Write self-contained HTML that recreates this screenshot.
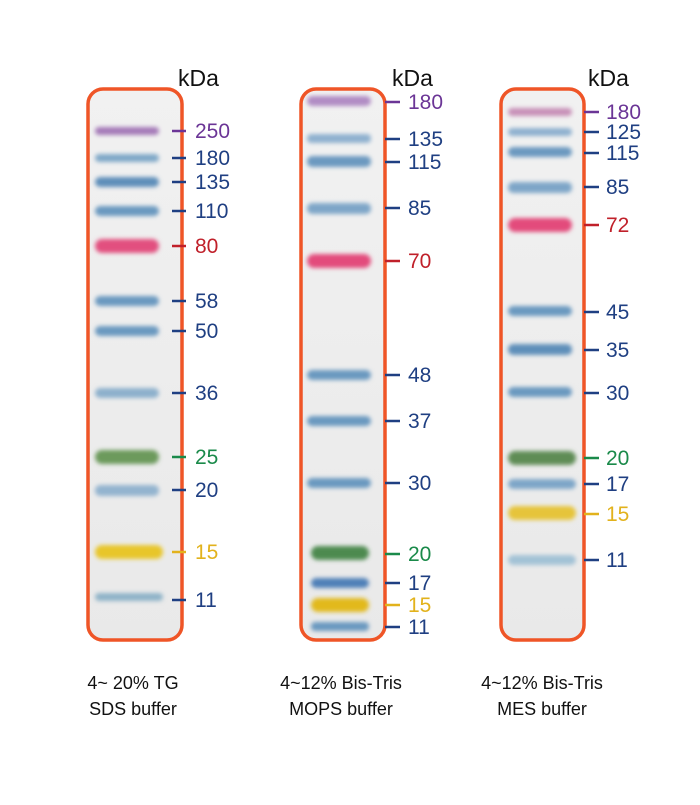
<!DOCTYPE html>
<html><head><style>body{margin:0;background:#fff}</style></head><body>
<svg width="700" height="800" xmlns="http://www.w3.org/2000/svg" font-family="Liberation Sans, sans-serif">
<defs><filter id="b" x="-20%" y="-150%" width="140%" height="400%"><feGaussianBlur stdDeviation="2"/></filter>
<linearGradient id="g" x1="0" x2="0" y1="0" y2="1"><stop offset="0" stop-color="#f1f1f1"/><stop offset="1" stop-color="#e9e9e9"/></linearGradient></defs>
<rect width="700" height="800" fill="#fff"/>
<g stroke="#ef5527" stroke-width="3.5" fill="url(#g)">
<rect x="88" y="89" width="94" height="551" rx="15"/>
<rect x="301" y="89" width="84" height="551" rx="15"/>
<rect x="501" y="89" width="83" height="551" rx="15"/>
</g>
<g font-size="23" fill="#111"><text x="178" y="86">kDa</text><text x="392" y="86">kDa</text><text x="588" y="86">kDa</text></g>
<g id="bands" filter="url(#b)" stroke-width="2">
<rect x="96" y="128" width="62" height="6" rx="3" fill="#a479b8" stroke="#a479b8"/>
<rect x="96" y="155" width="62" height="6" rx="3" fill="#7fa8c8" stroke="#7fa8c8"/>
<rect x="96" y="178" width="62" height="8" rx="4" fill="#5e8fba" stroke="#5e8fba"/>
<rect x="96" y="207" width="62" height="8" rx="4" fill="#6a99c0" stroke="#6a99c0"/>
<rect x="96" y="240" width="62" height="12" rx="6" fill="#e2507f" stroke="#e2507f"/>
<rect x="96" y="297" width="62" height="8" rx="4" fill="#6a99c0" stroke="#6a99c0"/>
<rect x="96" y="327" width="62" height="8" rx="4" fill="#6a99c0" stroke="#6a99c0"/>
<rect x="96" y="389" width="62" height="8" rx="4" fill="#8db0cc" stroke="#8db0cc"/>
<rect x="96" y="451" width="62" height="12" rx="6" fill="#6c9a5c" stroke="#6c9a5c"/>
<rect x="96" y="486" width="62" height="9" rx="4" fill="#93b4cf" stroke="#93b4cf"/>
<rect x="96" y="546" width="66" height="12" rx="6" fill="#e8c62a" stroke="#e8c62a"/>
<rect x="96" y="594" width="66" height="6" rx="3" fill="#8fb3c8" stroke="#8fb3c8"/>

<rect x="308" y="97" width="62" height="8" rx="4" fill="#b18cc4" stroke="#b18cc4"/>
<rect x="308" y="135" width="62" height="7" rx="3" fill="#8fb1cf" stroke="#8fb1cf"/>
<rect x="308" y="157" width="62" height="9" rx="4" fill="#6c99c0" stroke="#6c99c0"/>
<rect x="308" y="204" width="62" height="9" rx="4" fill="#7ea6c8" stroke="#7ea6c8"/>
<rect x="308" y="255" width="62" height="12" rx="6" fill="#e34b7c" stroke="#e34b7c"/>
<rect x="308" y="371" width="62" height="8" rx="4" fill="#6a99c0" stroke="#6a99c0"/>
<rect x="308" y="417" width="62" height="8" rx="4" fill="#6a99c0" stroke="#6a99c0"/>
<rect x="308" y="479" width="62" height="8" rx="4" fill="#6a99c0" stroke="#6a99c0"/>
<rect x="312" y="547" width="56" height="12" rx="6" fill="#4d8a50" stroke="#4d8a50"/>
<rect x="312" y="579" width="56" height="8" rx="4" fill="#4f80b8" stroke="#4f80b8"/>
<rect x="312" y="599" width="56" height="12" rx="6" fill="#e2b91c" stroke="#e2b91c"/>
<rect x="312" y="623" width="56" height="7" rx="3" fill="#6a99c0" stroke="#6a99c0"/>

<rect x="509" y="109" width="62" height="6" rx="3" fill="#c890b8" stroke="#c890b8"/>
<rect x="509" y="129" width="62" height="6" rx="3" fill="#8fb1cf" stroke="#8fb1cf"/>
<rect x="509" y="148" width="62" height="8" rx="4" fill="#6c99c0" stroke="#6c99c0"/>
<rect x="509" y="183" width="62" height="9" rx="4" fill="#7ea6c8" stroke="#7ea6c8"/>
<rect x="509" y="219" width="62" height="12" rx="6" fill="#e34b7c" stroke="#e34b7c"/>
<rect x="509" y="307" width="62" height="8" rx="4" fill="#6a99c0" stroke="#6a99c0"/>
<rect x="509" y="345" width="62" height="9" rx="4" fill="#5e8fba" stroke="#5e8fba"/>
<rect x="509" y="388" width="62" height="8" rx="4" fill="#6a99c0" stroke="#6a99c0"/>
<rect x="509" y="452" width="66" height="12" rx="6" fill="#5f8c55" stroke="#5f8c55"/>
<rect x="509" y="480" width="66" height="8" rx="4" fill="#7ea6c8" stroke="#7ea6c8"/>
<rect x="509" y="507" width="66" height="12" rx="6" fill="#e6c43a" stroke="#e6c43a"/>
<rect x="509" y="556" width="66" height="8" rx="4" fill="#a3c2d6" stroke="#a3c2d6"/>
</g>
<g font-size="21" stroke-width="2.5">
<g>
<path d="M172 131h14" stroke="#6b3596"/><text x="195" y="138" fill="#6b3596">250</text>
<path d="M172 158h14" stroke="#1f3f82"/><text x="195" y="165" fill="#1f3f82">180</text>
<path d="M172 182h14" stroke="#1f3f82"/><text x="195" y="189" fill="#1f3f82">135</text>
<path d="M172 211h14" stroke="#1f3f82"/><text x="195" y="218" fill="#1f3f82">110</text>
<path d="M172 246h14" stroke="#c0202a"/><text x="195" y="253" fill="#c0202a">80</text>
<path d="M172 301h14" stroke="#1f3f82"/><text x="195" y="308" fill="#1f3f82">58</text>
<path d="M172 331h14" stroke="#1f3f82"/><text x="195" y="338" fill="#1f3f82">50</text>
<path d="M172 393h14" stroke="#1f3f82"/><text x="195" y="400" fill="#1f3f82">36</text>
<path d="M172 457h14" stroke="#1a8a4a"/><text x="195" y="464" fill="#1a8a4a">25</text>
<path d="M172 490h14" stroke="#1f3f82"/><text x="195" y="497" fill="#1f3f82">20</text>
<path d="M172 552h14" stroke="#e2b21c"/><text x="195" y="559" fill="#e2b21c">15</text>
<path d="M172 600h14" stroke="#1f3f82"/><text x="195" y="607" fill="#1f3f82">11</text>
</g>
<g>
<path d="M385 102h15" stroke="#6b3596"/><text x="408" y="109" fill="#6b3596">180</text>
<path d="M385 139h15" stroke="#1f3f82"/><text x="408" y="146" fill="#1f3f82">135</text>
<path d="M385 162h15" stroke="#1f3f82"/><text x="408" y="169" fill="#1f3f82">115</text>
<path d="M385 208h15" stroke="#1f3f82"/><text x="408" y="215" fill="#1f3f82">85</text>
<path d="M385 261h15" stroke="#c0202a"/><text x="408" y="268" fill="#c0202a">70</text>
<path d="M385 375h15" stroke="#1f3f82"/><text x="408" y="382" fill="#1f3f82">48</text>
<path d="M385 421h15" stroke="#1f3f82"/><text x="408" y="428" fill="#1f3f82">37</text>
<path d="M385 483h15" stroke="#1f3f82"/><text x="408" y="490" fill="#1f3f82">30</text>
<path d="M385 554h15" stroke="#1a8a4a"/><text x="408" y="561" fill="#1a8a4a">20</text>
<path d="M385 583h15" stroke="#1f3f82"/><text x="408" y="590" fill="#1f3f82">17</text>
<path d="M385 605h15" stroke="#e2b21c"/><text x="408" y="612" fill="#e2b21c">15</text>
<path d="M385 627h15" stroke="#1f3f82"/><text x="408" y="634" fill="#1f3f82">11</text>
</g>
<g>
<path d="M584 112h15" stroke="#6b3596"/><text x="606" y="119" fill="#6b3596">180</text>
<path d="M584 132h15" stroke="#1f3f82"/><text x="606" y="139" fill="#1f3f82">125</text>
<path d="M584 153h15" stroke="#1f3f82"/><text x="606" y="160" fill="#1f3f82">115</text>
<path d="M584 187h15" stroke="#1f3f82"/><text x="606" y="194" fill="#1f3f82">85</text>
<path d="M584 225h15" stroke="#c0202a"/><text x="606" y="232" fill="#c0202a">72</text>
<path d="M584 312h15" stroke="#1f3f82"/><text x="606" y="319" fill="#1f3f82">45</text>
<path d="M584 350h15" stroke="#1f3f82"/><text x="606" y="357" fill="#1f3f82">35</text>
<path d="M584 393h15" stroke="#1f3f82"/><text x="606" y="400" fill="#1f3f82">30</text>
<path d="M584 458h15" stroke="#1a8a4a"/><text x="606" y="465" fill="#1a8a4a">20</text>
<path d="M584 484h15" stroke="#1f3f82"/><text x="606" y="491" fill="#1f3f82">17</text>
<path d="M584 514h15" stroke="#e2b21c"/><text x="606" y="521" fill="#e2b21c">15</text>
<path d="M584 560h15" stroke="#1f3f82"/><text x="606" y="567" fill="#1f3f82">11</text>
</g>
</g>
<g font-size="18" fill="#111" text-anchor="middle">
<text x="133" y="689">4~ 20% TG</text><text x="133" y="715">SDS buffer</text>
<text x="341" y="689">4~12% Bis-Tris</text><text x="341" y="715">MOPS buffer</text>
<text x="542" y="689">4~12% Bis-Tris</text><text x="542" y="715">MES buffer</text>
</g>
</svg>
</body></html>
